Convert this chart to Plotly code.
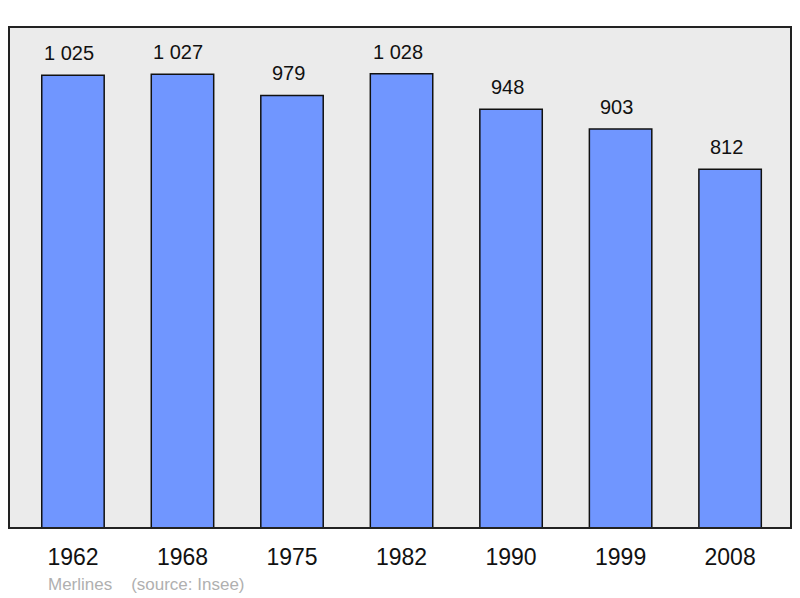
import plotly.graph_objects as go

years = ["1962", "1968", "1975", "1982", "1990", "1999", "2008"]
population = [1025, 1027, 979, 1028, 948, 903, 812]
labels = [f"{v:,}".replace(",", " ") for v in population]

FONT = "Liberation Sans, Arial, sans-serif"

fig = go.Figure()
fig.add_trace(go.Bar(
    x=list(range(len(years))), y=population,
    width=0.57,
    marker=dict(color="#7096ff", line=dict(color="#111111", width=1.5)),
    hoverinfo="skip",
))

for i, (v, t) in enumerate(zip(population, labels)):
    fig.add_annotation(x=i, y=v, text=t, showarrow=False, yanchor="bottom",
                       yshift=9, xshift=-4,
                       font=dict(size=20, color="#111111", family=FONT))

fig.add_annotation(xref="paper", yref="paper", x=37 / 782, y=-56 / 501,
                   xanchor="left", yanchor="middle", showarrow=False,
                   text="Merlines\u00a0\u00a0\u00a0\u00a0(source: Insee)",
                   font=dict(size=17, color="#b0b0b0", family=FONT))

fig.add_shape(type="rect", xref="paper", yref="paper", x0=0, y0=0, x1=1, y1=1,
              line=dict(color="#222222", width=2), layer="above")

fig.update_layout(
    width=800, height=598,
    margin=dict(l=1, r=17, t=19, b=78),
    paper_bgcolor="white", plot_bgcolor="#ebebeb",
    showlegend=False,
    font=dict(family=FONT, color="#111111"),
    xaxis=dict(tickmode="array", tickvals=list(range(len(years))), ticktext=years,
               range=[-0.584, 6.556], showgrid=False, zeroline=False,
               ticks="outside", ticklen=8, tickcolor="rgba(0,0,0,0)",
               tickfont=dict(size=23, color="#111111")),
    yaxis=dict(range=[0, 1134], showgrid=False, zeroline=False,
               showticklabels=False, ticks=""),
)

fig.write_html("out.html")
